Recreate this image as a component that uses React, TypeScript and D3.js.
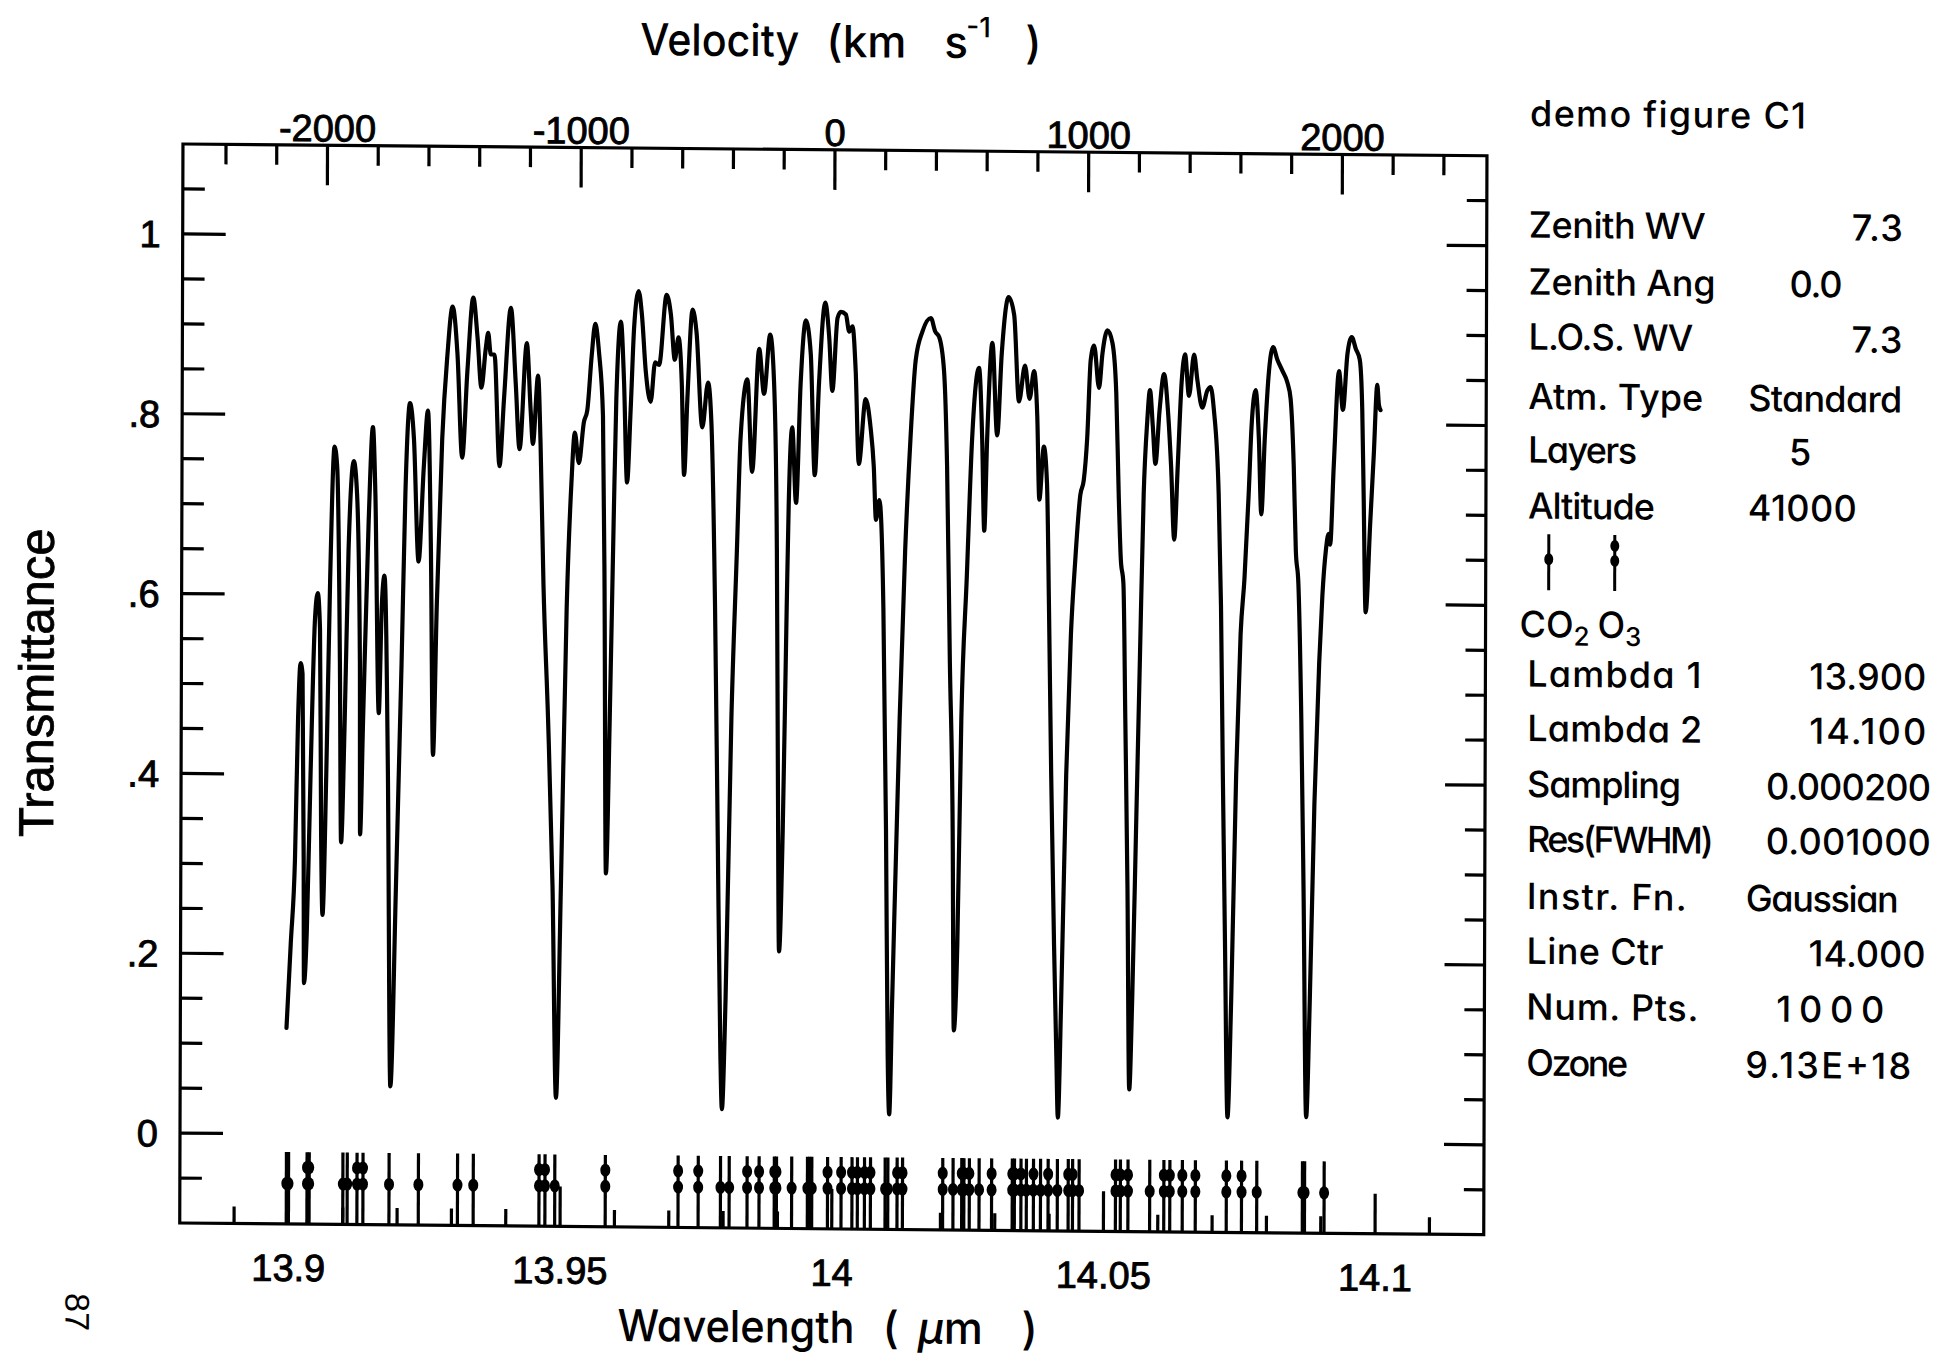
import React from "react";
import * as d3 from "d3";

// ---------------- data ----------------
const wavelength = [
  13.89954, 13.90028, 13.90101, 13.9015, 13.90193, 13.9023, 13.90261, 13.90273, 13.90322, 13.90383,
  13.90457, 13.90506, 13.90549, 13.9058, 13.9061, 13.90672, 13.90733, 13.90807, 13.90856, 13.90917,
  13.90948, 13.91009, 13.9107, 13.91162, 13.91224, 13.91285, 13.91297, 13.91347, 13.91438, 13.91512,
  13.91561, 13.91635, 13.91684, 13.91733, 13.91807, 13.91868, 13.9196, 13.92052, 13.92113, 13.92193,
  13.92267, 13.92359, 13.92451, 13.92524, 13.92586, 13.92635, 13.92696, 13.92788, 13.9288, 13.92972,
  13.93064, 13.93156, 13.93248, 13.93352, 13.93432, 13.93506, 13.93585, 13.93628, 13.93677, 13.93745,
  13.93843, 13.93923, 13.94045, 13.94137, 13.94211, 13.9434, 13.94414, 13.94457, 13.94549, 13.94598,
  13.94659, 13.94751, 13.94843, 13.94917, 13.94996, 13.95088, 13.95168, 13.95229, 13.95303, 13.95395,
  13.95456, 13.95536, 13.95598, 13.95671, 13.95745, 13.95782, 13.95824, 13.95886, 13.95947, 13.9599,
  13.9607, 13.96131, 13.96192, 13.96254, 13.96315, 13.96395, 13.96456, 13.9653, 13.96622, 13.96702,
  13.96775, 13.9691, 13.9699, 13.97064, 13.97131, 13.97193, 13.97241, 13.97297, 13.97389, 13.97462,
  13.97573, 13.97677, 13.97744, 13.97818, 13.97879, 13.97941, 13.97971, 13.98033, 13.98125, 13.98217,
  13.98278, 13.98401, 13.98493, 13.98616, 13.98708, 13.98818, 13.98892, 13.98953, 13.98984, 13.99014,
  13.99076, 13.99137, 13.99168, 13.99229, 13.99303, 13.99382, 13.99474, 13.99566, 13.99646, 13.9972,
  13.9983, 13.99904, 13.99965, 14.00057, 14.00118, 14.0021, 14.00272, 14.00333, 14.00394, 14.00456,
  14.00578, 14.0067, 14.00732, 14.00775, 14.00836, 14.00873, 14.00916, 14.00977, 14.0102, 14.01051,
  14.011, 14.01222, 14.01314, 14.01406, 14.01498, 14.01621, 14.01774, 14.01855, 14.01928, 14.0202,
  14.02081, 14.02143, 14.02204, 14.02235, 14.02296, 14.02357, 14.02449, 14.02541, 14.02664, 14.02725,
  14.02768, 14.02817, 14.02909, 14.03001, 14.03081, 14.03204, 14.03308, 14.034, 14.0351, 14.03596,
  14.03676, 14.03738, 14.0378, 14.03861, 14.03921, 14.03964, 14.04014, 14.04075, 14.04124, 14.04155,
  14.0421, 14.0429, 14.04369, 14.04443, 14.04535, 14.04597, 14.04658, 14.04719, 14.04781, 14.04873,
  14.04934, 14.05026, 14.05118, 14.05191, 14.05241, 14.05283, 14.05333, 14.05375, 14.05424, 14.05467,
  14.05517, 14.05578, 14.05639, 14.05701, 14.05762, 14.05811, 14.05866, 14.05915, 14.05989, 14.06069,
  14.06142, 14.06204, 14.06265, 14.06326, 14.06393, 14.06455, 14.06529, 14.06621, 14.06682, 14.06774,
  14.06866, 14.06927, 14.06989, 14.07081, 14.0713, 14.07173, 14.07222, 14.07277, 14.07339, 14.07418,
  14.07492, 14.0756, 14.07633, 14.07682, 14.07756, 14.07817, 14.07866, 14.07927, 14.08001, 14.08075,
  14.08154, 14.08246, 14.08338, 14.08399, 14.08461, 14.08504, 14.08553, 14.08614, 14.08664, 14.08725,
  14.08786, 14.0886, 14.0894, 14.08995, 14.09056, 14.09106, 14.09135, 14.09197, 14.09289, 14.09363,
  14.09443, 14.09522, 14.09596, 14.0967, 14.09719, 14.09749, 14.09792, 14.09872, 14.09933, 14.09994,
  14.10025, 14.10055,
];

const transmittance = [
  0.118, 0.212, 0.306, 0.462, 0.524, 0.512, 0.306, 0.168, 0.225, 0.4,
  0.574, 0.602, 0.562, 0.337, 0.244, 0.4, 0.618, 0.765, 0.743, 0.525,
  0.325, 0.462, 0.65, 0.749, 0.712, 0.525, 0.334, 0.462, 0.681, 0.787,
  0.712, 0.469, 0.587, 0.622, 0.4, 0.054, 0.275, 0.525, 0.713, 0.814,
  0.775, 0.638, 0.744, 0.806, 0.65, 0.423, 0.588, 0.775, 0.869, 0.922,
  0.869, 0.754, 0.851, 0.932, 0.888, 0.832, 0.876, 0.893, 0.869, 0.869,
  0.745, 0.82, 0.921, 0.838, 0.764, 0.882, 0.807, 0.77, 0.846, 0.77,
  0.614, 0.464, 0.277, 0.043, 0.277, 0.589, 0.727, 0.783, 0.749, 0.795,
  0.808, 0.87, 0.904, 0.871, 0.802, 0.621, 0.293, 0.465, 0.683, 0.821,
  0.907, 0.84, 0.728, 0.809, 0.902, 0.941, 0.915, 0.852, 0.818, 0.862,
  0.859, 0.937, 0.915, 0.865, 0.89, 0.84, 0.737, 0.821, 0.921, 0.896,
  0.79, 0.84, 0.791, 0.591, 0.341, 0.092, 0.032, 0.154, 0.466, 0.653,
  0.778, 0.844, 0.741, 0.878, 0.828, 0.894, 0.841, 0.654, 0.404, 0.208,
  0.342, 0.591, 0.704, 0.791, 0.707, 0.841, 0.91, 0.873, 0.738, 0.841,
  0.93, 0.892, 0.832, 0.913, 0.92, 0.917, 0.898, 0.904, 0.854, 0.751,
  0.823, 0.792, 0.748, 0.689, 0.711, 0.686, 0.592, 0.343, 0.093, 0.028,
  0.156, 0.468, 0.655, 0.78, 0.867, 0.899, 0.914, 0.899, 0.893, 0.855,
  0.749, 0.531, 0.344, 0.122, 0.219, 0.468, 0.625, 0.781, 0.859, 0.781,
  0.678, 0.781, 0.887, 0.784, 0.875, 0.938, 0.918, 0.822, 0.862, 0.825,
  0.856, 0.806, 0.713, 0.772, 0.731, 0.594, 0.407, 0.22, 0.095, 0.026,
  0.157, 0.407, 0.563, 0.644, 0.719, 0.735, 0.782, 0.869, 0.885, 0.838,
  0.876, 0.902, 0.888, 0.832, 0.72, 0.648, 0.62, 0.47, 0.283, 0.058,
  0.158, 0.345, 0.533, 0.72, 0.801, 0.836, 0.795, 0.754, 0.814, 0.854,
  0.814, 0.751, 0.67, 0.752, 0.845, 0.876, 0.83, 0.876, 0.848, 0.817,
  0.836, 0.84, 0.814, 0.721, 0.596, 0.409, 0.221, 0.028, 0.159, 0.409,
  0.565, 0.627, 0.721, 0.796, 0.837, 0.784, 0.699, 0.784, 0.859, 0.885,
  0.871, 0.859, 0.846, 0.828, 0.753, 0.659, 0.622, 0.472, 0.285, 0.029,
  0.16, 0.378, 0.534, 0.609, 0.659, 0.678, 0.666, 0.753, 0.859, 0.816,
  0.878, 0.897, 0.884, 0.872, 0.816, 0.722, 0.591, 0.691, 0.766, 0.844,
  0.822, 0.816,
];

// absorption line positions (micron)
const co2Lines = [
  13.8996, 13.9, 13.91, 13.9108, 13.9185, 13.9239, 13.9311, 13.934, 13.949, 13.9795,
  13.9811, 13.9926, 13.9955, 13.9959, 13.9963, 14.0098, 14.0103, 14.0223, 14.0271, 14.0358,
  14.0384, 14.0415, 14.0455, 14.0585, 14.0782, 14.0866, 14.087, 14.0906,
];
const o3Lines = [
  13.9034, 13.9038, 13.9126, 13.9137, 13.9461, 13.9472, 13.9583, 13.9717, 13.9754, 13.9844,
  13.9866, 13.9894, 13.9898, 13.9992, 14.0017, 14.0037, 14.0047, 14.006, 14.0071, 14.012,
  14.013, 14.0204, 14.0239, 14.0243, 14.0253, 14.0294, 14.0332, 14.0336, 14.0348, 14.0371,
  14.0398, 14.0435, 14.0443, 14.0522, 14.0531, 14.0545, 14.0611, 14.0622, 14.0645, 14.0669,
  14.0726, 14.0754,
];

const wlMajorTicks = [13.9, 13.95, 14.0, 14.05, 14.1];
const wlTickLabels = ["13.9", "13.95", "14", "14.05", "14.1"];
const velMajorTicks = [-2000, -1000, 0, 1000, 2000];
const velTickLabels = ["-2000", "-1000", "0", "1000", "2000"];
const trMajorTicks = [0, 0.2, 0.4, 0.6, 0.8, 1.0];
const trTickLabels = ["0", ".2", ".4", ".6", ".8", "1"];

const infoLabels = [
  "Zenith WV", "Zenith Ang", "L.O.S. WV", "Atm. Type", "Layers", "Altitude",
  "Lambda 1", "Lambda 2", "Sampling", "Res(FWHM)", "Instr. Fn.", "Line Ctr", "Num. Pts.", "Ozone",
];
const infoValues = [
  "7.3", "0.0", "7.3", "Standard", "5", "41000",
  "13.900", "14.100", "0.000200", "0.001000", "Gaussian", "14.000", "1000", "9.13E+18",
];

const C_KMS = 299792.458;
const LINE_CENTER = 14.0;

// ---------------- layout ----------------
const SKEW = "matrix(1 0.009 -0.003 1 3.4 -1.62)";
const rowY = [225.5, 282.5, 337.5, 397, 450.5, 506.5, 674.5, 729, 785, 839.8, 897, 951.7, 1007.5, 1063.5];
const labelW = [177, 187, 165, 175, 109, 127, 174, 175, 154, 187, 160, 137, 172, 102];
const valueX = [1849, 1787, 1849, 1746, 1787, 1746, 1808, 1808, 1765, 1765, 1745, 1808, 1776, 1745];
const valueW = [51, 53, 51, 154, 19, 109, 117, 117, 165, 165, 153, 117, 108, 166];

const TICK_FONT = "'Liberation Sans', Arial, Helvetica, sans-serif";
const GEO_FONT = "Inter, 'Liberation Sans', sans-serif";
const geoStyle: React.CSSProperties = { fontFeatureSettings: '"cv11" 1' };

export default function App() {
  const W = 1950;
  const H = 1355;
  const left = 180, right = 1484, top = 144, bottom = 1223;

  const x = d3.scaleLinear().domain([13.88, 14.12]).range([left, right]);
  const v = d3
    .scaleLinear()
    .domain([(13.88 / LINE_CENTER - 1) * C_KMS, (14.12 / LINE_CENTER - 1) * C_KMS])
    .range([left, right]);
  const y = d3.scaleLinear().domain([-0.1, 1.1]).range([bottom, top]);

  const line = d3
    .line<number>()
    .x((_, i) => x(wavelength[i]))
    .y((d) => y(d))
    .curve(d3.curveMonotoneX);
  const curvePath = line(transmittance) || "";

  const MAJ = 40, MIN = 20, LMAJ = 43, LMIN = 22;
  const sw = 3.2;

  const isMult = (val: number, step: number) => Math.abs(val / step - Math.round(val / step)) < 1e-6;

  const wlMinor = x.ticks(24).filter((t) => t > 13.881 && t < 14.119 && !isMult(t - 13.9, 0.05));
  const velMinor = d3.range(-2400, 2401, 200).filter((t) => t % 1000 !== 0);
  const trMinor = d3
    .range(-1, 22)
    .map((k) => Math.round(k * 5) / 100)
    .filter((t) => t > -0.099 && t < 1.099 && !isMult(t, 0.2));

  const markerTop = y(-0.02);
  const dotLow = y(-0.055);
  const dotHigh = y(-0.037);

  const tickText = { fontFamily: TICK_FONT, fontSize: 38, fill: "#000", stroke: "#000", strokeWidth: 0.9 };

  return (
    <svg
      width={W}
      height={H}
      viewBox={`0 0 ${W} ${H}`}
      style={{ position: "absolute", left: 0, top: 0, background: "#fff" }}
    >
      <rect x={0} y={0} width={W} height={H} fill="#fff" />
      <g transform={SKEW}>
        {/* frame */}
        <rect x={left} y={top} width={right - left} height={bottom - top} fill="none" stroke="#000" strokeWidth={sw} />

        {/* bottom wavelength ticks */}
        {wlMajorTicks.map((t) => (
          <line key={"bM" + t} x1={x(t)} x2={x(t)} y1={bottom} y2={bottom - MAJ} stroke="#000" strokeWidth={sw} />
        ))}
        {wlMinor.map((t) => (
          <line key={"bm" + t} x1={x(t)} x2={x(t)} y1={bottom} y2={bottom - 17} stroke="#000" strokeWidth={sw} />
        ))}
        {wlMajorTicks.map((t, i) => (
          <text key={"bl" + t} x={x(t)} y={1280} textAnchor="middle" {...tickText}>
            {wlTickLabels[i]}
          </text>
        ))}

        {/* top velocity ticks */}
        {velMajorTicks.map((t) => (
          <line key={"tM" + t} x1={v(t)} x2={v(t)} y1={top} y2={top + MAJ} stroke="#000" strokeWidth={sw} />
        ))}
        {velMinor.map((t) => (
          <line key={"tm" + t} x1={v(t)} x2={v(t)} y1={top} y2={top + MIN} stroke="#000" strokeWidth={sw} />
        ))}
        {velMajorTicks.map((t, i) => (
          <text key={"tl" + t} x={v(t)} y={140} textAnchor="middle" {...tickText}>
            {velTickLabels[i]}
          </text>
        ))}

        {/* left & right transmittance ticks */}
        {trMajorTicks.map((t) => (
          <g key={"yM" + t}>
            <line x1={left} x2={left + LMAJ} y1={y(t)} y2={y(t)} stroke="#000" strokeWidth={sw} />
            <line x1={right} x2={right - MAJ} y1={y(t)} y2={y(t)} stroke="#000" strokeWidth={sw} />
          </g>
        ))}
        {trMinor.map((t) => (
          <g key={"ym" + t}>
            <line x1={left} x2={left + LMIN} y1={y(t)} y2={y(t)} stroke="#000" strokeWidth={sw} />
            <line x1={right} x2={right - MIN} y1={y(t)} y2={y(t)} stroke="#000" strokeWidth={sw} />
          </g>
        ))}
        {trMajorTicks.map((t, i) => (
          <text key={"yl" + t} x={158} y={y(t) + 13.6} textAnchor="end" {...tickText}>
            {trTickLabels[i]}
          </text>
        ))}

        {/* spectrum */}
        <path d={curvePath} fill="none" stroke="#000" strokeWidth={4.2} strokeLinejoin="round" strokeLinecap="round" />

        {/* line markers */}
        {co2Lines.map((w, i) => (
          <g key={"co2" + i}>
            <line x1={x(w)} x2={x(w)} y1={bottom} y2={markerTop} stroke="#000" strokeWidth={3.2} />
            <ellipse cx={x(w)} cy={dotLow} rx={5} ry={6.5} fill="#000" />
          </g>
        ))}
        {o3Lines.map((w, i) => (
          <g key={"o3" + i}>
            <line x1={x(w)} x2={x(w)} y1={bottom} y2={markerTop} stroke="#000" strokeWidth={3.2} />
            <ellipse cx={x(w)} cy={dotLow} rx={5} ry={6.5} fill="#000" />
            <ellipse cx={x(w)} cy={dotHigh} rx={5} ry={6.5} fill="#000" />
          </g>
        ))}

        {/* axis titles */}
        <g fontFamily={GEO_FONT} fill="#000" style={geoStyle} fontWeight={500}>
          <text x={637} y={51} fontSize={44} textLength={159} lengthAdjust="spacingAndGlyphs">Velocity</text>
          <text x={823} y={51} fontSize={44}>(km</text>
          <text x={941} y={51} fontSize={44}>s</text>
          <text x={963} y={30} fontSize={28}>-1</text>
          <text x={1022} y={51} fontSize={44}>)</text>

          <text x={618} y={1337} fontSize={44} textLength={237} lengthAdjust="spacingAndGlyphs">Wavelength</text>
          <text x={883} y={1337} fontSize={44}>(</text>
          <text x={918} y={1337} fontSize={44}>
            <tspan fontStyle="italic">μ</tspan>m
          </text>
          <text x={1022} y={1337} fontSize={44}>)</text>
        </g>
        <text
          transform="translate(52,684) rotate(-90)"
          textAnchor="middle"
          fontFamily={TICK_FONT}
          fontSize={49}
          fill="#000"
          stroke="#000"
          strokeWidth={0.8}
        >
          Transmittance
        </text>

        {/* right info panel */}
        <g fontFamily={GEO_FONT} fill="#000" style={geoStyle} fontSize={36} fontWeight={500}>
          <text x={1527} y={114} textLength={276} lengthAdjust="spacing">demo figure C1</text>
          {infoLabels.map((lab, i) => (
            <text key={"il" + i} x={1526} y={rowY[i]} textLength={labelW[i]} lengthAdjust="spacing">
              {lab}
            </text>
          ))}
          {infoValues.map((val, i) => (
            <text key={"iv" + i} x={valueX[i]} y={rowY[i]} textLength={valueW[i]} lengthAdjust="spacing">
              {val}
            </text>
          ))}
          <text x={1518} y={625}>
            CO<tspan fontSize={26} dy={8}>2</tspan>
          </text>
          <text x={1596} y={625}>
            O<tspan fontSize={26} dy={8}>3</tspan>
          </text>
        </g>
        {/* legend markers */}
        <g>
          <line x1={1547} x2={1547} y1={522} y2={578} stroke="#000" strokeWidth={3} />
          <ellipse cx={1547} cy={547} rx={4.5} ry={6} fill="#000" />
          <line x1={1613} x2={1613} y1={522} y2={578} stroke="#000" strokeWidth={3} />
          <ellipse cx={1613} cy={548} rx={4.5} ry={6} fill="#000" />
          <ellipse cx={1613} cy={533} rx={4.5} ry={6} fill="#000" />
        </g>

        {/* page number */}
        <text transform="translate(66,1313) rotate(90)" textAnchor="middle" fontFamily={TICK_FONT} fontSize={34} fill="#000">
          87
        </text>
      </g>
    </svg>
  );
}
